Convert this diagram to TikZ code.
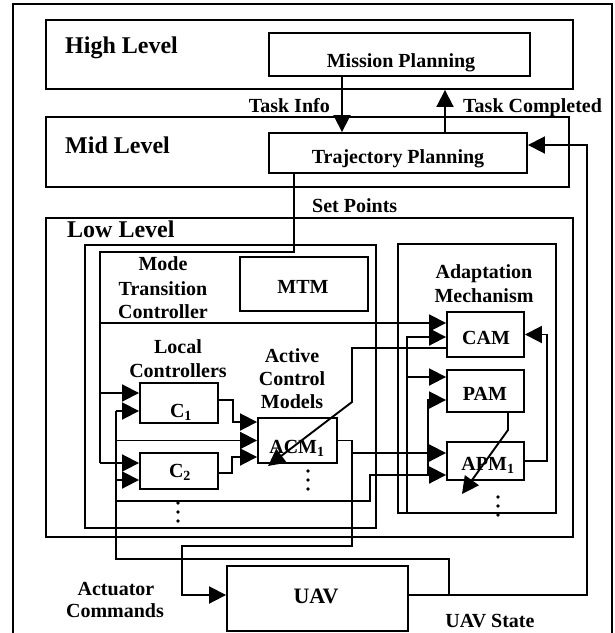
\documentclass[tikz,border=0pt]{standalone}
\usepackage{fontspec}
\setmainfont{Liberation Serif}
\usetikzlibrary{arrows.meta,calc}
\begin{document}
\begin{tikzpicture}[x=1pt,y=-1pt,
  box/.style={draw, line width=1.9pt, inner sep=0pt},
  wire/.style={line width=1.9pt},
  arr/.style={line width=1.9pt, -{Triangle[length=17pt,width=17pt]}},
  lbl/.style={font=\fontsize{20}{24}\selectfont\bfseries, inner sep=0pt, anchor=base},
  lvl/.style={font=\fontsize{24}{28}\selectfont\bfseries, inner sep=0pt, anchor=base west},
  dotn/.style={fill, circle, inner sep=0pt, minimum size=3.8pt}]
\useasboundingbox (0,0) rectangle (615,633);
% outer frame
\draw[wire] (13,645) -- (13,4) -- (612,4) -- (612,645);
% boxes
\node[box, minimum width=527pt, minimum height=69pt] (high) at (309.5,54.5) {};
\node[box, minimum width=261pt, minimum height=43pt] (mission) at (399.5,54.5) {};
\node[box, minimum width=523pt, minimum height=70pt] (mid) at (307.5,152) {};
\node[box, minimum width=258pt, minimum height=40pt] (traj) at (398,153) {};
\node[box, minimum width=527pt, minimum height=319pt] (low) at (309.5,377.5) {};
\node[box, minimum width=291pt, minimum height=283pt] (lc) at (230.5,386.5) {};
\node[box, minimum width=128pt, minimum height=54pt] (mtm) at (304,284) {};
\node[box, minimum width=78pt, minimum height=40pt] (c1) at (179,403) {};
\node[box, minimum width=78pt, minimum height=36pt] (c2) at (179,471) {};
\node[box, minimum width=79pt, minimum height=45pt] (acm) at (297.5,440.5) {};
\node[box, minimum width=158pt, minimum height=269pt] (am) at (477,378.5) {};
\node[box, minimum width=77pt, minimum height=45pt] (cam) at (485.5,334.5) {};
\node[box, minimum width=77pt, minimum height=42pt] (pam) at (485.5,391) {};
\node[box, minimum width=77pt, minimum height=38pt] (apm) at (485.5,461) {};
\node[box, minimum width=181pt, minimum height=65pt] (uav) at (317.5,598.5) {};
% texts
\node[lvl] (highT) at (65,53) {High Level};
\node[lvl] (midT) at (65,153) {Mid Level};
\node[lvl] (lowT) at (67,237) {Low Level};
\node[lbl] (missionT) at (401,67) {Mission Planning};
\node[lbl] (trajT) at (398,163) {Trajectory Planning};
\node[lbl, anchor=base east] (tiT) at (330,112) {Task Info};
\node[lbl, anchor=base west] (tcT) at (463,112) {Task Completed};
\node[lbl, anchor=base west] (spT) at (312,212) {Set Points};
\node[lbl] (modeT1) at (163,270) {Mode};
\node[lbl] (modeT2) at (163,295) {Transition};
\node[lbl] (modeT3) at (163,318) {Controller};
\node[lbl] (mtmT) at (303,293) {MTM};
\node[lbl] (locT1) at (178,353) {Local};
\node[lbl] (locT2) at (178,377) {Controllers};
\node[lbl] (actT1) at (292,362) {Active};
\node[lbl] (actT2) at (292,385) {Control};
\node[lbl] (actT3) at (292,408) {Models};
\node[lbl] (c1T) at (181,417) {C\textsubscript{1}};
\node[lbl] (c2T) at (180,477) {C\textsubscript{2}};
\node[lbl] (acmT) at (297,453) {ACM\textsubscript{1}};
\node[lbl] (adT1) at (484,278) {Adaptation};
\node[lbl] (adT2) at (484,302) {Mechanism};
\node[lbl] (camT) at (486,344) {CAM};
\node[lbl] (pamT) at (485,400) {PAM};
\node[lbl] (apmT) at (488,470) {APM\textsubscript{1}};
\node[lbl, font=\fontsize{22}{26}\selectfont\bfseries] (uavT) at (316,603) {UAV};
\node[lbl] (actuT1) at (116,595) {Actuator};
\node[lbl] (actuT2) at (115,617) {Commands};
\node[lbl] (usT) at (490,627) {UAV State};
% dots
\node[dotn] (da1) at (308,471) {};
\node[dotn] (da2) at (308,480) {};
\node[dotn] (da3) at (308,489) {};
\node[dotn] (dc1) at (178,503) {};
\node[dotn] (dc2) at (178,512) {};
\node[dotn] (dc3) at (178,521) {};
\node[dotn] (dp1) at (498,497) {};
\node[dotn] (dp2) at (498,506) {};
\node[dotn] (dp3) at (498,515) {};
% named x positions
\coordinate (xTI) at (342,0);
\coordinate (xTC) at (445,0);
\coordinate (xSP) at (294,0);
\coordinate (xR) at (547,0);
% task info / completed
\draw[arr] (mission.south -| xTI) -- (traj.north -| xTI);
\draw[arr] (traj.north -| xTC) -- (high.south -| xTC);
% UAV state feedback to trajectory planning
\coordinate (uo) at ([yshift=3.5pt]uav.east);
\coordinate (fb) at ([yshift=8pt]traj.east);
\draw[arr] (uo) -| (587,145) -- (fb);
% UAV state into low level
\coordinate (jS) at (449,595);
\draw[wire] (jS) |- (116,559) -- (116,411);
\draw[arr] (116,411) -- ([yshift=-8pt]c1.west);
\draw[arr] (116,440.5) -- (acm.west);
\draw[arr] (116,480) -- ([yshift=-9pt]c2.west);
\draw[arr] (116,501) -| (370,475) -- ([yshift=-14pt]apm.west);
\draw[arr] (428,475) |- ([yshift=-9pt]pam.west);
% set points
\draw[wire] (traj.south -| xSP) |- (100,252) -- (100,463);
\draw[arr] (100,393) -- ([yshift=10pt]c1.west);
\draw[arr] (100,463) -- ([yshift=8pt]c2.west);
\draw[arr] (100,323) -- ([yshift=11.5pt]cam.west);
% local controllers to ACM
\draw[arr] ([yshift=3pt]c1.east) -| (233,422) -- ([yshift=18.5pt]acm.west);
\draw[arr] ([yshift=-2pt]c2.east) -| (232,457) -- ([yshift=-16.5pt]acm.west);
% actuator commands
\draw[arr] (acm.east) -| (352,546) -| (182,595) -- ([yshift=3.5pt]uav.west);
\draw[arr] (352,453) -- ([yshift=8pt]apm.west);
% adaptation internal
\draw[arr] (407,513) |- ([yshift=-2.5pt]cam.west);
\draw[arr] (407,377) -- ([yshift=14pt]pam.west);
\draw[arr] (apm.east) -| (xR |- cam.east) -- (cam.east);
\draw[arr] ([yshift=-13.5pt]cam.west) -- (352,348) -- (352,402) -- (268,466);
\draw[arr] ([xshift=22.5pt]pam.south) -- (508,430) -- (462,494);
\end{tikzpicture}
\end{document}
